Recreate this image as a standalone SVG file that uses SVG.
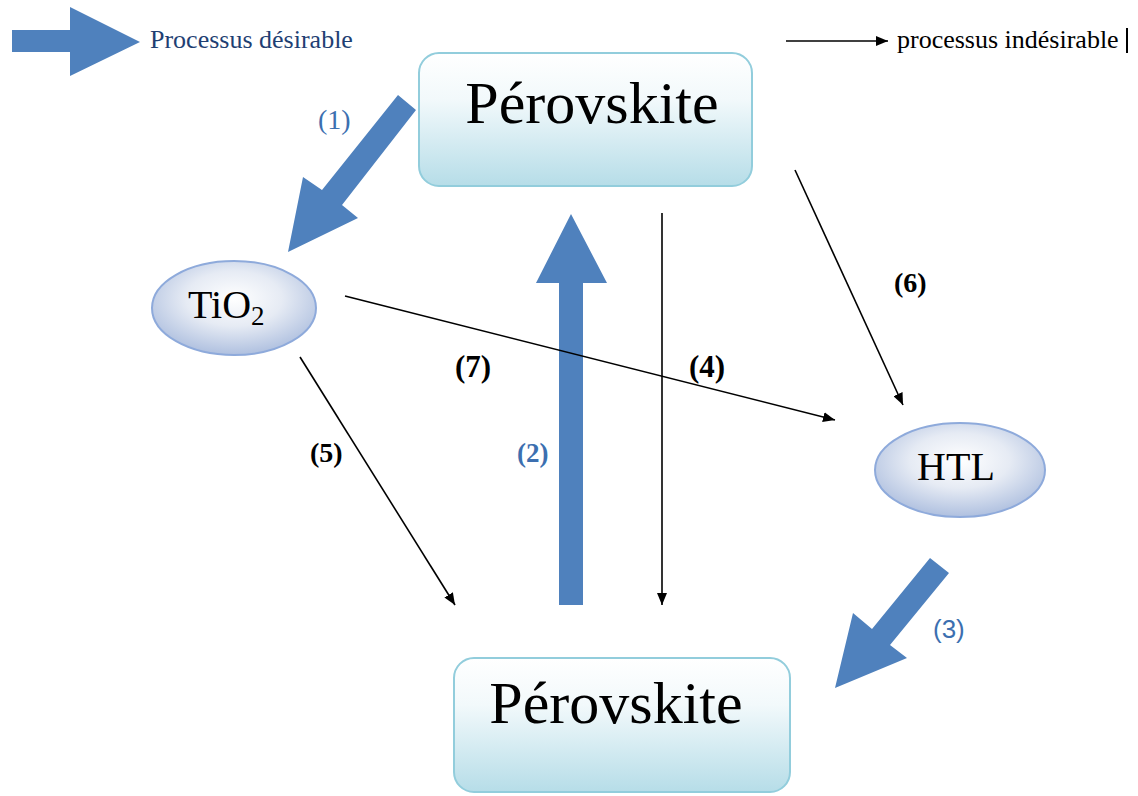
<svg xmlns="http://www.w3.org/2000/svg" width="1138" height="796" viewBox="0 0 1138 796">
<style>
.big{fill:#4f81bd;}
.thin{stroke:#000;stroke-width:1.6;fill:none;marker-end:url(#ah);}
.box{fill:url(#gbox);stroke:#92cddc;stroke-width:2;}
.ell{fill:url(#gell);stroke:#8eaadb;stroke-width:2;}
.tt{font-family:"Liberation Serif","Times New Roman",serif;fill:#000;}
.lb{font-family:"Liberation Serif","Times New Roman",serif;font-weight:bold;fill:#000;}
.lblue{font-family:"Liberation Serif","Times New Roman",serif;fill:#3c6fb0;}
</style>
<defs>
<linearGradient id="gbox" x1="0" y1="0" x2="0" y2="1">
<stop offset="0" stop-color="#ffffff"/>
<stop offset="0.35" stop-color="#f2f9fb"/>
<stop offset="1" stop-color="#b6dde8"/>
</linearGradient>
<radialGradient id="gell" cx="0.5" cy="0.4" r="0.65">
<stop offset="0" stop-color="#ffffff"/>
<stop offset="0.45" stop-color="#e6ebf4"/>
<stop offset="1" stop-color="#a6b9dc"/>
</radialGradient>
<marker id="ah" viewBox="0 0 12 10" refX="12" refY="5" markerWidth="12" markerHeight="10" markerUnits="userSpaceOnUse" orient="auto">
<path d="M0,0 L12,5 L0,10 Z" fill="#000"/>
</marker>
</defs>
<rect width="1138" height="796" fill="#fff"/>

<g id="legend">
<polygon class="big" points="12,30 70,30 70,7 140,42 70,76 70,52 12,52"/>
<text x="150" y="48" style="font-family:'Liberation Serif',serif;font-size:26px;fill:#1f3f73">Processus désirable</text>
<line class="thin" x1="786" y1="41" x2="888" y2="41"/>
<text x="897" y="48" class="tt" style="font-size:26px">processus indésirable</text>
<line x1="1127" y1="28" x2="1127" y2="53" stroke="#000" stroke-width="2"/>
</g>

<g id="connectors">
<polygon class="big" points="398,95 416,110 342,205 358,218 288,252 303,177 322,190"/>
<polygon class="big" points="559,605 559,283 536,283 571,214 607,283 583,283 583,605"/>
<polygon class="big" points="930,558 949,573 890,645 907,658 835,688 853,613 872,629"/>
<line class="thin" x1="795" y1="170" x2="903" y2="405"/>
<line class="thin" x1="345" y1="296" x2="835" y2="420"/>
<line class="thin" x1="300" y1="357" x2="455" y2="605"/>
<line class="thin" x1="662" y1="213" x2="662" y2="605"/>
<text x="318" y="129" class="lblue" style="font-size:28px">(1)</text>
<text x="517" y="462" class="lblue" style="font-weight:bold;font-size:27px">(2)</text>
<text x="933" y="638" class="lblue" style="font-family:'Liberation Sans',Arial,sans-serif;font-size:26px">(3)</text>
<text x="689" y="377" class="lb" style="font-size:31px">(4)</text>
<text x="310" y="462" class="lb" style="font-size:28px">(5)</text>
<text x="894" y="292" class="lb" style="font-size:28px">(6)</text>
<text x="455" y="377" class="lb" style="font-size:31px">(7)</text>
</g>

<g id="perovskite-top">
<rect class="box" x="419" y="53" width="333" height="133" rx="20"/>
<text x="592" y="123" class="tt" text-anchor="middle" style="font-size:60px">Pérovskite</text>
</g>

<g id="perovskite-bottom">
<rect class="box" x="454" y="658" width="336" height="134" rx="20"/>
<text x="616" y="723" class="tt" text-anchor="middle" style="font-size:60px">Pérovskite</text>
</g>

<g id="tio2">
<ellipse class="ell" cx="234" cy="308" rx="82" ry="47"/>
<text x="188" y="318" class="tt" style="font-size:40px">TiO<tspan dy="7" style="font-size:27px">2</tspan></text>
</g>

<g id="htl">
<ellipse class="ell" cx="960" cy="470" rx="85" ry="47"/>
<text x="956" y="480" class="tt" text-anchor="middle" style="font-size:40px">HTL</text>
</g>
</svg>
